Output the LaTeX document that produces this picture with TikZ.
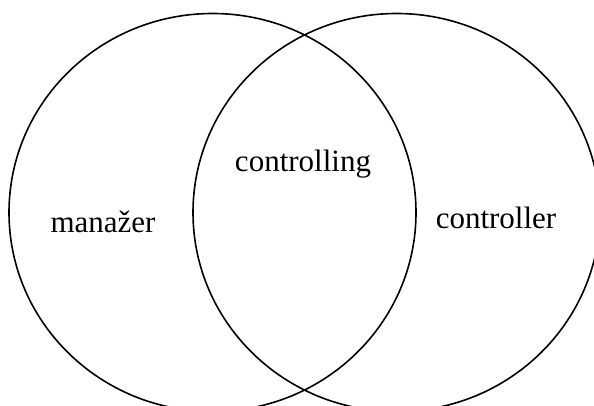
\documentclass[tikz,border=0pt]{standalone}
\usepackage{fontspec}
\setmainfont{Liberation Serif}
\begin{document}
\begin{tikzpicture}[x=1pt,y=-1pt,
  venn/.style={draw=black,line width=1.6pt},
  lbl/.style={anchor=base,inner sep=0pt,font=\fontsize{31}{36}\selectfont}]
\useasboundingbox (0,0) rectangle (594,406);
\begin{scope}
\clip (0,0) rectangle (594,406);
\draw[venn] (212.5,212.5) ellipse [x radius=203.5, y radius=199];
\draw[venn] (396.5,212.5) ellipse [x radius=203.5, y radius=199];
\end{scope}
\node[lbl] (ctrl) at (303,172) {controlling};
\node[lbl] (man) at (103,232) {manažer};
\node[lbl] (ctrler) at (496,228) {controller};
\end{tikzpicture}
\end{document}
